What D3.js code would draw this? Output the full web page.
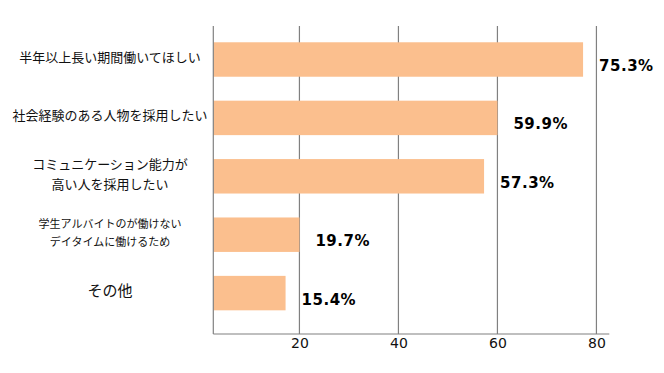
<!DOCTYPE html>
<html>
<head>
<meta charset="utf-8">
<script src="https://cdn.jsdelivr.net/npm/d3@7"></script>
<style>
  html, body { margin: 0; padding: 0; background: #fff; }
  svg { display: block; }
</style>
</head>
<body>
<svg id="chart" width="664" height="373"></svg>
<script>
// ---- data ----
const categories = [
  ["半年以上長い期間働いてほしい"],
  ["社会経験のある人物を採用したい"],
  ["コミュニケーション能力が", "高い人を採用したい"],
  ["学生アルバイトのが働けない", "デイタイムに働けるため"],
  ["その他"]
];
const barValues = [77.3, 60.0, 57.3, 20.0, 17.2];
const valueLabels = ["75.3%", "59.9%", "57.3%", "19.7%", "15.4%"];
const xTicks = [20, 40, 60, 80];
const xDomain = [2.6, 82.6];

(function () {
// ---- layout ----
const svg = d3.select("#chart");
const pLeft = 213.3, pRight = 609.3, pTop = 26, pBottom = 334;
const x = d3.scaleLinear().domain(xDomain).range([pLeft, pRight]);
const y = d3.scaleBand().domain(d3.range(categories.length))
  .range([30.3, 322.3]).paddingInner(0.41).paddingOuter(0.205);

const gridColor = "#808080";
const barColor = "#FBBF8E";

// gridlines
svg.append("g").selectAll("line").data(xTicks).join("line")
  .attr("x1", d => x(d)).attr("x2", d => x(d))
  .attr("y1", pTop).attr("y2", pBottom)
  .attr("stroke", gridColor).attr("stroke-width", 1.2);

// bars
svg.append("g").selectAll("rect").data(barValues).join("rect")
  .attr("x", x(xDomain[0]))
  .attr("y", (d, i) => y(i))
  .attr("width", d => x(d) - x(xDomain[0]))
  .attr("height", y.bandwidth())
  .attr("fill", barColor);

// axes lines
svg.append("line").attr("x1", pLeft).attr("x2", pLeft).attr("y1", pTop).attr("y2", pBottom)
  .attr("stroke", gridColor).attr("stroke-width", 1.2);
svg.append("line").attr("x1", pLeft).attr("x2", pRight).attr("y1", pBottom).attr("y2", pBottom)
  .attr("stroke", gridColor).attr("stroke-width", 1.2);

// x axis tick labels via d3 axis
const xAxis = d3.axisBottom(x).tickValues(xTicks).tickSize(0).tickPadding(4);
const gx = svg.append("g").attr("transform", `translate(0,${pBottom})`).call(xAxis);
gx.select(".domain").remove();
gx.selectAll("text").attr("font-family", "DejaVu Sans, Verdana, sans-serif")
  .attr("font-size", 14).attr("fill", "#111");

// value labels
svg.append("g").selectAll("text").data(barValues).join("text")
  .attr("x", d => x(d) + 16)
  .attr("y", (d, i) => y(i) + y.bandwidth() / 2 + 7)
  .attr("dominant-baseline", "middle")
  .attr("font-family", "DejaVu Sans, Verdana, sans-serif")
  .attr("font-weight", "bold")
  .attr("font-size", 15)
  .attr("letter-spacing", 0.5)
  .attr("fill", "#000")
  .text((d, i) => valueLabels[i]);

// category labels
const catSizes = [13, 13, 13, 11, 15];
const lineGap = [20, 20, 20, 18, 20];
const cg = svg.append("g");
categories.forEach((lines, i) => {
  const cy = y(i) + y.bandwidth() / 2 - 1;
  const n = lines.length;
  lines.forEach((t, j) => {
    cg.append("text")
      .attr("x", 110)
      .attr("y", cy + (j - (n - 1) / 2) * lineGap[i])
      .attr("text-anchor", "middle")
      .attr("dominant-baseline", "middle")
      .attr("font-family", "'Noto Sans CJK JP', sans-serif")
      .attr("font-size", catSizes[i])
      .attr("fill", "#111")
      .text(t);
  });
});
})();
</script>
</body>
</html>
